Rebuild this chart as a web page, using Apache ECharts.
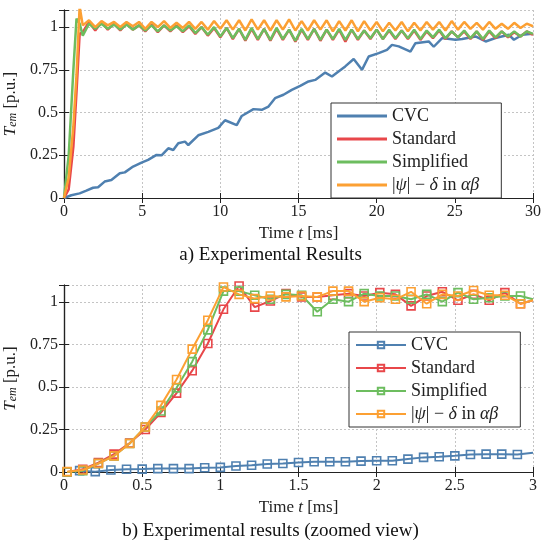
<!DOCTYPE html>
<html>
<head>
<meta charset="utf-8">
<script src="https://cdn.jsdelivr.net/npm/echarts@6/dist/echarts.min.js"></script>
<style>
  html, body { margin: 0; padding: 0; background: #fff; }
  #top, #bottom { width: 541px; height: 270px; }
</style>
</head>
<body>
<div id="top"></div>
<div id="bottom"></div>
<script>
// ---- a) full run, 0..30 ms ----
const tCvcTop = [0, 0.47, 1.0, 1.43, 1.86, 2.18, 2.6, 3.03, 3.57, 3.89, 4.42, 4.96, 5.38, 5.92, 6.24,
  6.67, 6.99, 7.31, 7.74, 7.95, 8.59, 9.23, 9.87, 10.3, 11.05, 11.37, 12.12, 12.65, 13.08, 13.5,
  14.04, 14.57, 15.11, 15.64, 16.07, 16.71, 17.14, 17.56, 17.99, 18.53, 19.06, 19.49, 20.13, 20.66, 20.98,
  21.41, 22.16, 22.48, 23.33, 23.65, 24.19, 25.04, 25.47, 26.32, 26.97, 27.6, 28.46, 28.78, 29.32, 29.96];
const cvcTop = [0, 0.016, 0.027, 0.043, 0.06, 0.063, 0.096, 0.105, 0.145, 0.15, 0.184, 0.207, 0.223, 0.252, 0.25,
  0.291, 0.281, 0.32, 0.33, 0.31, 0.367, 0.387, 0.41, 0.455, 0.426, 0.48, 0.52, 0.516, 0.535, 0.584,
  0.604, 0.633, 0.656, 0.682, 0.691, 0.734, 0.711, 0.74, 0.77, 0.813, 0.75, 0.828, 0.848, 0.867, 0.896,
  0.887, 0.857, 0.906, 0.916, 0.885, 0.936, 0.926, 0.93, 0.945, 0.916, 0.936, 0.955, 0.926, 0.955, 0.961];

const tTop = [0, 0.3, 0.6, 0.8, 1.0,
  1.2, 1.6, 2.0, 2.4, 2.8, 3.2, 3.6, 4.0, 4.4, 4.8,
  5.2, 5.6, 6.0, 6.4, 6.8, 7.2, 7.6, 8.0, 8.4, 8.8,
  9.2, 9.6, 10.0, 10.4, 10.8, 11.2, 11.6, 12.0, 12.4, 12.8,
  13.2, 13.6, 14.0, 14.4, 14.8, 15.2, 15.6, 16.0, 16.4, 16.8,
  17.2, 17.6, 18.0, 18.4, 18.8, 19.2, 19.6, 20.0, 20.4, 20.8,
  21.2, 21.6, 22.0, 22.4, 22.8, 23.2, 23.6, 24.0, 24.4, 24.8,
  25.2, 25.6, 26.0, 26.4, 26.8, 27.2, 27.6, 28.0, 28.4, 28.8,
  29.2, 29.6, 30.0];
const stdTop = [0, 0.05, 0.3, 0.62, 0.96,
  0.97, 1.03, 0.98, 1.03, 0.985, 1.02, 0.98, 1.02, 0.985, 1.01,
  0.975, 1.015, 0.97, 1.01, 0.975, 1.01, 0.97, 1.005, 0.96, 1.0,
  0.95, 0.995, 0.94, 0.995, 0.93, 0.99, 0.92, 0.99, 0.925, 0.99,
  0.92, 0.99, 0.925, 0.985, 0.915, 0.985, 0.925, 0.99, 0.92, 0.985,
  0.925, 0.985, 0.915, 0.985, 0.925, 0.98, 0.93, 0.985, 0.93, 0.98,
  0.93, 0.98, 0.93, 0.98, 0.925, 0.975, 0.935, 0.98, 0.93, 0.975,
  0.94, 0.975, 0.93, 0.975, 0.925, 0.975, 0.935, 0.975, 0.94, 0.97,
  0.945, 0.975, 0.955];
const simTop = [0, 0.25, 0.75, 1.05, 1.02,
  0.95, 1.02, 0.99, 1.02, 0.99, 1.015, 0.985, 1.015, 0.985, 1.01,
  0.98, 1.01, 0.975, 1.01, 0.98, 1.005, 0.975, 1.01, 0.965, 1.0,
  0.955, 1.0, 0.945, 0.995, 0.935, 0.99, 0.925, 0.995, 0.93, 0.99,
  0.925, 0.995, 0.93, 0.985, 0.92, 0.99, 0.93, 0.99, 0.925, 0.985,
  0.93, 0.99, 0.925, 0.985, 0.93, 0.98, 0.935, 0.985, 0.93, 0.985,
  0.935, 0.98, 0.935, 0.985, 0.93, 0.98, 0.94, 0.985, 0.935, 0.975,
  0.94, 0.98, 0.935, 0.975, 0.93, 0.98, 0.94, 0.975, 0.945, 0.975,
  0.945, 0.975, 0.96];
const psiTop = [0, 0.12, 0.42, 0.72, 1.12,
  1.01, 1.04, 1.00, 1.035, 1.01, 1.03, 1.00, 1.03, 1.005, 1.03,
  0.99, 1.03, 1.00, 1.035, 0.995, 1.025, 0.995, 1.03, 0.99, 1.03,
  0.985, 1.035, 0.99, 1.04, 0.985, 1.04, 0.98, 1.045, 0.985, 1.04,
  0.98, 1.04, 0.985, 1.045, 0.98, 1.035, 0.98, 1.04, 0.985, 1.04,
  0.975, 1.035, 0.98, 1.04, 0.975, 1.035, 0.98, 1.03, 0.975, 1.025,
  0.98, 1.03, 0.975, 1.025, 0.98, 1.03, 0.985, 1.03, 0.98, 1.035,
  0.985, 1.03, 0.99, 1.025, 0.985, 1.03, 0.99, 1.02, 0.99, 1.025,
  0.995, 1.02, 1.005];

// ---- b) zoomed view, 0..3 ms ----
const tCvcZoom = [0.1, 0.2, 0.3, 0.4, 0.5, 0.6, 0.7, 0.8, 0.9, 1.0,
  1.1, 1.2, 1.3, 1.4, 1.5, 1.6, 1.7, 1.8, 1.9, 2.0,
  2.1, 2.2, 2.3, 2.4, 2.5, 2.6, 2.7, 2.8, 2.9, 3.0];
const cvcZoom = [0.008, 0.002, 0.012, 0.016, 0.017, 0.02, 0.02, 0.02, 0.025, 0.027,
  0.035, 0.04, 0.047, 0.05, 0.056, 0.06, 0.06, 0.06, 0.064, 0.066,
  0.066, 0.076, 0.086, 0.09, 0.095, 0.103, 0.105, 0.105, 0.103, 0.113];
const tZoom = [0.02, 0.12, 0.22, 0.32, 0.42, 0.52, 0.62, 0.72, 0.82, 0.92,
  1.02, 1.12, 1.22, 1.32, 1.42, 1.52, 1.62, 1.72, 1.82, 1.92,
  2.02, 2.12, 2.22, 2.32, 2.42, 2.52, 2.62, 2.72, 2.82, 2.92, 3.0];
const stdZoom = [0.0, 0.016, 0.055, 0.105, 0.17, 0.25, 0.35, 0.464, 0.596, 0.756,
  0.957, 1.094, 0.97, 1.006, 1.049, 1.03, 1.03, 1.04, 1.049, 1.035,
  1.055, 1.045, 0.977, 1.035, 1.06, 1.01, 1.045, 1.01, 1.055, 0.99, 1.01];
const simZoom = [0.0, 0.008, 0.05, 0.095, 0.168, 0.265, 0.359, 0.495, 0.649, 0.836,
  1.064, 1.064, 1.04, 1.016, 1.045, 1.04, 0.943, 1.016, 1.002, 1.049,
  1.035, 1.035, 1.016, 1.045, 1.002, 1.055, 1.016, 1.025, 1.035, 1.035, 1.016];
const psiZoom = [0.002, 0.012, 0.05, 0.095, 0.168, 0.265, 0.392, 0.544, 0.723, 0.893,
  1.088, 1.045, 1.02, 1.035, 1.03, 1.035, 1.03, 1.064, 1.064, 1.002,
  1.025, 1.016, 1.06, 0.99, 1.045, 1.035, 1.068, 1.04, 1.04, 0.99, 1.01];

const names = ['CVC', 'Standard', 'Simplified', '|ψ| − δ in αβ'];
const colors = ['#4f80b0', '#e8474a', '#6dbd5f', '#fca033'];
const FONT = 'Liberation Serif';

const pairs = (t, v) => t.map((x, i) => [x, v[i]]);

const legendFmt = (n) => n === names[3] ? '|{m|ψ}| − {m|δ} in {m|αβ}' : n;

function axes(xmax, xint) {
  const tick = { show: true, inside: true, length: 5, lineStyle: { color: '#222' } };
  const line = { show: true, lineStyle: { color: '#222', width: 1.2 } };
  return {
    xAxis: [
      {
        type: 'value', min: 0, max: xmax, interval: xint,
        axisLine: line, axisTick: tick,
        axisLabel: { color: '#222', fontFamily: FONT, fontSize: 16, margin: 6 },
        splitLine: { show: true, lineStyle: { color: '#c4c4c4', type: [2, 2] } },
        name: '{r|Time }{i|t}{r| [ms]}', nameLocation: 'middle', nameGap: 27,
        nameTextStyle: {
          rich: {
            r: { fontFamily: FONT, fontSize: 17, color: '#222' },
            i: { fontFamily: FONT, fontSize: 17, color: '#222', fontStyle: 'italic' }
          }
        }
      },
      {
        type: 'value', min: 0, max: xmax, interval: xint, position: 'top',
        axisLine: line, axisTick: tick, axisLabel: { show: false }, splitLine: { show: false }
      }
    ],
    yAxis: [
      {
        type: 'value', min: 0, max: 1.1, interval: 0.25,
        axisLine: line, axisTick: tick,
        axisLabel: {
          color: '#222', fontFamily: FONT, fontSize: 16, margin: 6,
          formatter: (v) => v > 1.05 ? '' : String(v)
        },
        splitLine: { show: true, lineStyle: { color: '#c4c4c4', type: [2, 2] } },
        name: '{i|T}{s|em}{r| [p.u.]}', nameLocation: 'middle', nameGap: 34, nameRotate: 90,
        nameTextStyle: {
          rich: {
            i: { fontFamily: FONT, fontSize: 17, color: '#222', fontStyle: 'italic' },
            s: { fontFamily: FONT, fontSize: 12, color: '#222', fontStyle: 'italic', verticalAlign: 'bottom', padding: [6, 0, 0, 0] },
            r: { fontFamily: FONT, fontSize: 17, color: '#222' }
          }
        }
      },
      {
        type: 'value', min: 0, max: 1.1, interval: 0.25, position: 'right',
        axisLine: line, axisTick: tick, axisLabel: { show: false }, splitLine: { show: false }
      }
    ]
  };
}

function legend(left, top, withMarker) {
  return {
    orient: 'vertical', left: left, top: top,
    itemWidth: 50, itemHeight: withMarker ? 8 : 3, itemGap: 5,
    icon: withMarker ? undefined : 'rect',
    padding: [4, 22, 4, 6],
    backgroundColor: '#fff', borderColor: '#333', borderWidth: 1, borderRadius: 0,
    data: names,
    formatter: legendFmt,
    textStyle: {
      fontFamily: FONT, fontSize: 18, color: '#222',
      rich: { m: { fontFamily: FONT, fontSize: 18, color: '#222', fontStyle: 'italic' } }
    }
  };
}

function caption(text, top) {
  return {
    text: text, left: 'center', top: top,
    textStyle: { fontFamily: FONT, fontSize: 19, fontWeight: 'normal', color: '#111' }
  };
}

// chart a)
const chartA = echarts.init(document.getElementById('top'));
const topData = [pairs(tCvcTop, cvcTop), pairs(tTop, stdTop), pairs(tTop, simTop), pairs(tTop, psiTop)];
chartA.setOption(Object.assign({
  animation: false,
  grid: { left: 64, right: 8, top: 10, height: 188, containLabel: false, outerBoundsMode: 'none' },
  title: caption('a) Experimental Results', 241),
  legend: legend(331, 103, false),
  series: topData.map((d, i) => ({
    name: names[i], type: 'line', data: d, symbol: 'none',
    lineStyle: { color: colors[i], width: 2.5 }, itemStyle: { color: colors[i] },
    clip: true, z: 2 + i
  }))
}, axes(30, 5)));

// chart b)
const chartB = echarts.init(document.getElementById('bottom'));
const zoomData = [pairs(tCvcZoom, cvcZoom), pairs(tZoom, stdZoom), pairs(tZoom, simZoom), pairs(tZoom, psiZoom)];
chartB.setOption(Object.assign({
  animation: false,
  grid: { left: 64, right: 8, top: 15, height: 187, containLabel: false, outerBoundsMode: 'none' },
  title: caption('b) Experimental results (zoomed view)', 247),
  legend: legend(349, 62, true),
  series: zoomData.map((d, i) => ({
    name: names[i], type: 'line',
    // no marker on the closing point at the right border
    data: d.map((p, k) => k === d.length - 1 ? { value: p, symbol: 'none' } : p),
    symbol: 'rect', symbolSize: 8, showAllSymbol: true,
    lineStyle: { color: colors[i], width: 2 },
    itemStyle: { color: 'rgba(255,255,255,0)', borderColor: colors[i], borderWidth: 1.6 },
    clip: true, z: 2 + i
  }))
}, axes(3, 0.5)));
</script>
</body>
</html>
